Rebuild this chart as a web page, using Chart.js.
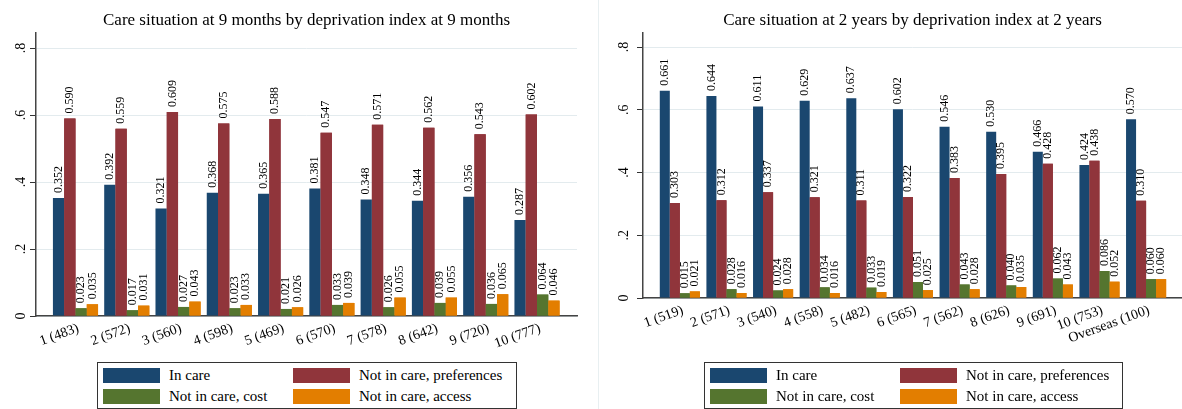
<!DOCTYPE html>
<html>
<head>
<meta charset="utf-8">
<script src="https://cdn.jsdelivr.net/npm/chart.js@4/dist/chart.umd.min.js"></script>
<style>
  body { margin: 0; background: #fff; }
  #wrap { position: relative; width: 1182px; height: 409px; overflow: hidden; font-family: "Liberation Serif", serif; }
  canvas { position: absolute; top: 0; }
  #c9m { left: 0; }
  #c2y { left: 590px; }
  .sep { position: absolute; left: 598px; top: 0; width: 1px; height: 409px; background: #e8eff1; }
  .legend { position: absolute; top: 362px; height: 45px; border: 1px solid #333; background: #fff; }
  .item { position: absolute; height: 15px; font-size: 15px; line-height: 15px; color: #000; white-space: nowrap; }
  .sw { position: absolute; left: 0; top: 0; width: 57px; height: 15px; }
  .item span { position: absolute; left: 66px; top: 0; }
</style>
</head>
<body>
<div id="wrap">
  <canvas id="c9m" width="590" height="409"></canvas>
  <canvas id="c2y" width="592" height="409"></canvas>
  <div class="sep"></div>
  <div class="legend" id="leg9m" style="left:97px; width:418px;"></div>
  <div class="legend" id="leg2y" style="left:704px; width:417px;"></div>
</div>
<script>
// series names and colours
const seriesNames = ['In care', 'Not in care, preferences', 'Not in care, cost', 'Not in care, access'];
const seriesColors = ['#1a476f', '#90353b', '#55752f', '#e37e00'];

// 9 months panel
const labels9m = ['1 (483)', '2 (572)', '3 (560)', '4 (598)', '5 (469)', '6 (570)', '7 (578)', '8 (642)', '9 (720)', '10 (777)'];
const inCare9m = [0.352, 0.392, 0.321, 0.368, 0.365, 0.381, 0.348, 0.344, 0.356, 0.287];
const prefs9m = [0.590, 0.559, 0.609, 0.575, 0.588, 0.547, 0.571, 0.562, 0.543, 0.602];
const cost9m = [0.023, 0.017, 0.027, 0.023, 0.021, 0.033, 0.026, 0.039, 0.036, 0.064];
const access9m = [0.035, 0.031, 0.043, 0.033, 0.026, 0.039, 0.055, 0.055, 0.065, 0.046];

// 2 years panel
const labels2y = ['1 (519)', '2 (571)', '3 (540)', '4 (558)', '5 (482)', '6 (565)', '7 (562)', '8 (626)', '9 (691)', '10 (753)', 'Overseas (100)'];
const inCare2y = [0.661, 0.644, 0.611, 0.629, 0.637, 0.602, 0.546, 0.530, 0.466, 0.424, 0.570];
const prefs2y = [0.303, 0.312, 0.337, 0.321, 0.311, 0.322, 0.383, 0.395, 0.428, 0.438, 0.310];
const cost2y = [0.015, 0.028, 0.024, 0.034, 0.033, 0.051, 0.043, 0.040, 0.062, 0.086, 0.060];
const access2y = [0.021, 0.016, 0.028, 0.016, 0.019, 0.025, 0.028, 0.035, 0.043, 0.052, 0.060];

const yTicks = [0, 0.2, 0.4, 0.6, 0.8];
const FONT = 'Liberation Serif';

// value labels drawn per series; later bars are redrawn so they cover earlier labels
const valueLabels = {
    id: 'valueLabels',
    afterDatasetsDraw(chart) {
        const ctx = chart.ctx;
        const n = chart.data.datasets.length;
        for (let i = 0; i < n; i++) {
            const meta = chart.getDatasetMeta(i);
            if (i > 0) meta.data.forEach((bar) => bar.draw(ctx));
            ctx.save();
            ctx.font = '12px "' + FONT + '"';
            ctx.fillStyle = '#000';
            ctx.textAlign = 'left';
            ctx.textBaseline = 'middle';
            meta.data.forEach((bar, j) => {
                const v = chart.data.datasets[i].data[j].y;
                ctx.save();
                ctx.translate(bar.x, bar.y - 5);
                ctx.rotate(-Math.PI / 2);
                ctx.fillText(v.toFixed(3), 0, 0);
                ctx.restore();
            });
            ctx.restore();
        }
    }
};

function makeChart(id, title, labels, series, opts) {
    const datasets = series.map((vals, i) => ({
        label: seriesNames[i],
        data: vals.map((v, k) => ({ x: k, y: v })),
        backgroundColor: seriesColors[i],
        borderWidth: 0,
        barPercentage: 1,
        categoryPercentage: opts.catPct
    }));

    return new Chart(document.getElementById(id), {
        type: 'bar',
        data: { datasets: datasets },
        plugins: [valueLabels],
        options: {
            responsive: false,
            animation: false,
            devicePixelRatio: 1,
            layout: { padding: { left: 0, right: opts.padRight, top: 0, bottom: 0 } },
            plugins: {
                legend: { display: false },
                tooltip: { enabled: false },
                title: {
                    display: true,
                    text: title,
                    fullSize: false,
                    color: '#000',
                    font: { family: FONT, size: 17, weight: 'normal', lineHeight: 1.2 },
                    padding: { top: 10, bottom: 2.6 }
                }
            },
            scales: {
                x: {
                    type: 'linear',
                    offset: false,
                    min: opts.xMin,
                    max: opts.xMax,
                    afterBuildTicks: (scale) => {
                        scale.ticks = labels.map((_, k) => ({ value: k }));
                    },
                    afterFit: (scale) => { scale.height = opts.xHeight; },
                    grid: { display: false, drawTicks: false, offset: false },
                    border: { display: true, color: '#444', width: 1.5 },
                    ticks: {
                        autoSkip: false,
                        minRotation: 20,
                        maxRotation: 20,
                        padding: 4,
                        labelOffset: 3,
                        color: '#000',
                        font: { family: FONT, size: 14 },
                        callback: (v) => labels[v]
                    }
                },
                y: {
                    min: 0,
                    max: 0.845,
                    afterBuildTicks: (scale) => {
                        scale.ticks = yTicks.map((v) => ({ value: v }));
                    },
                    afterFit: (scale) => { scale.width = opts.yWidth; },
                    grid: { color: '#e3ebee', lineWidth: 1, tickLength: 6, tickColor: '#333' },
                    border: { display: true, color: '#444', width: 1.5 },
                    ticks: {
                        minRotation: 90,
                        maxRotation: 90,
                        crossAlign: 'center',
                        padding: opts.yPad,
                        color: '#000',
                        font: { family: FONT, size: 14 },
                        callback: (v) => v === 0 ? '0' : v.toFixed(1).replace(/^0/, '')
                    }
                }
            }
        }
    });
}

makeChart('c9m', 'Care situation at 9 months by deprivation index at 9 months', labels9m,
    [inCare9m, prefs9m, cost9m, access9m],
    { catPct: 0.88, xMin: -0.77, xMax: 9.78, xHeight: 93, yWidth: 36, yPad: 3.75, padRight: 13 });

makeChart('c2y', 'Care situation at 2 years by deprivation index at 2 years', labels2y,
    [inCare2y, prefs2y, cost2y, access2y],
    { catPct: 0.86, xMin: -0.79, xMax: 10.77, xHeight: 111, yWidth: 53, yPad: 7.75, padRight: 0 });

// 2x2 legends under each panel
function buildLegend(id, col2) {
    const box = document.getElementById(id);
    const pos = [[5, 5], [col2, 5], [5, 26], [col2, 26]];
    seriesNames.forEach((name, k) => {
        const item = document.createElement('div');
        item.className = 'item';
        item.style.left = pos[k][0] + 'px';
        item.style.top = pos[k][1] + 'px';
        item.innerHTML = '<div class="sw" style="background:' + seriesColors[k] + '"></div><span>' + name + '</span>';
        box.appendChild(item);
    });
}
buildLegend('leg9m', 195);
buildLegend('leg2y', 195);
</script>
</body>
</html>
